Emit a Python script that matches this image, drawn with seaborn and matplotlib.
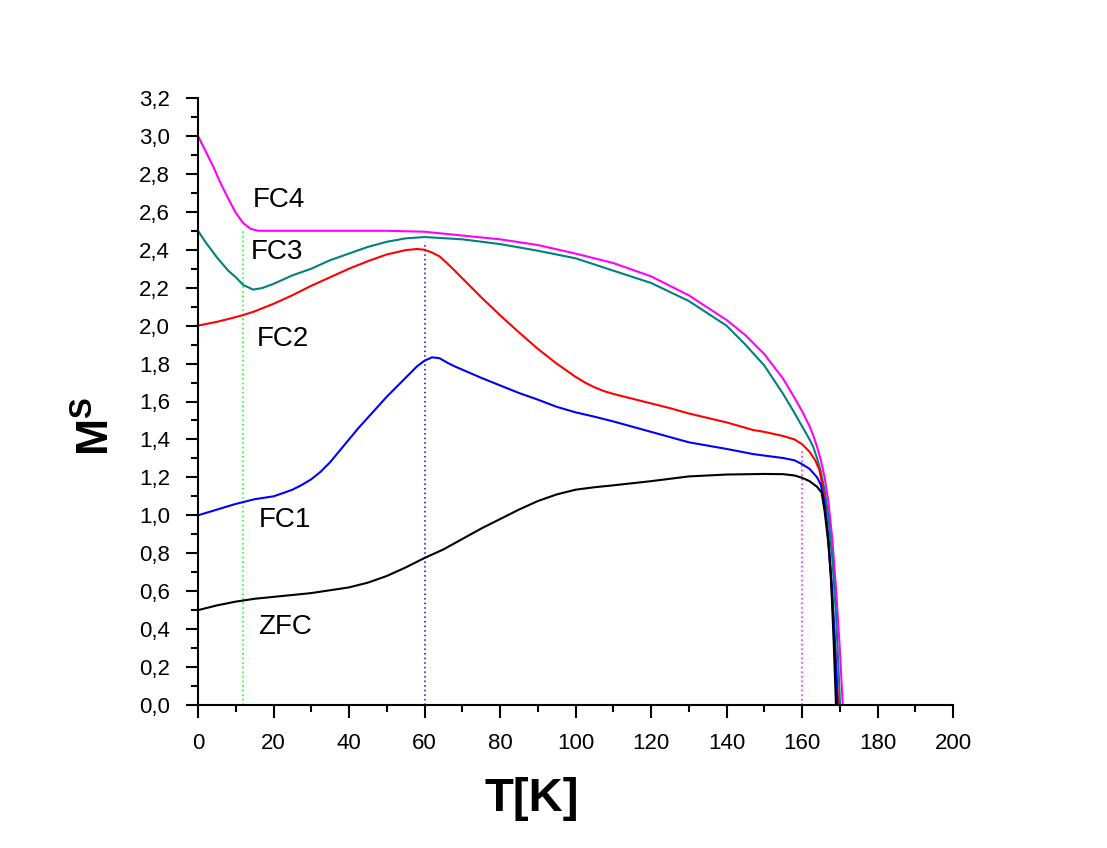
import matplotlib
matplotlib.use("Agg")
import matplotlib.pyplot as plt
import seaborn as sns
import numpy as np
from matplotlib.ticker import FuncFormatter, MultipleLocator

# Data
zfc_t = [0, 5, 10, 15, 20, 25, 30, 35, 40, 45, 50, 55, 60, 65, 70, 75, 80, 85, 90, 95,
         100, 105, 110, 120, 130, 140, 150, 155, 158, 160, 162, 164, 165.2, 166, 167, 167.7, 168.4, 169]
zfc_m = [0.50, 0.525, 0.545, 0.56, 0.57, 0.58, 0.59, 0.605, 0.62, 0.645, 0.68, 0.725, 0.775, 0.82,
         0.875, 0.93, 0.98, 1.03, 1.075, 1.11, 1.135, 1.148, 1.158, 1.18, 1.205, 1.215, 1.218, 1.217,
         1.21, 1.198, 1.18, 1.15, 1.12, 1.02, 0.85, 0.66, 0.33, 0.0]

fc1_t = [0, 5, 10, 15, 20, 22.5, 25, 27.5, 30, 32.5, 35, 37.5, 40, 42.5, 45, 50, 55, 58, 60, 62,
         64, 66, 68, 70, 75, 80, 85, 90, 95, 100, 105, 110, 120, 130, 140, 147, 150, 155, 158, 160,
         162, 164, 165, 166, 167, 168, 168.8, 169.4]
fc1_m = [1.00, 1.03, 1.06, 1.085, 1.10, 1.117, 1.135, 1.16, 1.19, 1.23, 1.28, 1.34, 1.40, 1.46,
         1.515, 1.625, 1.725, 1.785, 1.815, 1.833, 1.828, 1.805, 1.785, 1.768, 1.725, 1.685, 1.645,
         1.61, 1.572, 1.543, 1.52, 1.495, 1.44, 1.385, 1.35, 1.323, 1.315, 1.302, 1.29, 1.27, 1.245,
         1.20, 1.16, 1.06, 0.88, 0.6, 0.3, 0.0]

fc2_t = [0, 5, 10, 12, 15, 20, 25, 30, 35, 40, 45, 50, 55, 58, 60, 62, 64, 67, 70, 75, 80, 85, 90,
         95, 100, 102.5, 105, 107.5, 110, 115, 120, 125, 130, 140, 147, 150, 155, 158, 160, 162,
         163.5, 164.6, 165.5, 166.5, 167.5, 168.5, 169.6]
fc2_m = [2.00, 2.02, 2.045, 2.056, 2.075, 2.115, 2.16, 2.21, 2.255, 2.30, 2.34, 2.375, 2.398, 2.404,
         2.40, 2.385, 2.365, 2.31, 2.25, 2.15, 2.055, 1.965, 1.878, 1.80, 1.73, 1.70, 1.675, 1.655,
         1.64, 1.615, 1.59, 1.565, 1.537, 1.49, 1.45, 1.44, 1.418, 1.40, 1.375, 1.335, 1.29, 1.24,
         1.15, 0.98, 0.72, 0.4, 0.0]

fc3_t = [0, 2, 5, 8, 10, 12, 14.6, 17, 20, 25, 30, 35, 40, 45, 50, 55, 60, 70, 80, 90, 100, 110,
         120, 130, 140, 145, 150, 153, 155, 158, 160, 162, 163, 164, 165, 166, 167, 168, 169, 170.1]
fc3_m = [2.50, 2.44, 2.36, 2.29, 2.255, 2.214, 2.19, 2.198, 2.22, 2.265, 2.30, 2.345, 2.38, 2.415,
         2.442, 2.46, 2.467, 2.455, 2.43, 2.395, 2.355, 2.29, 2.225, 2.13, 2.0, 1.90, 1.79, 1.70,
         1.64, 1.54, 1.47, 1.40, 1.36, 1.30, 1.23, 1.13, 0.99, 0.78, 0.48, 0.0]

fc4_t = [0, 2, 4, 6, 8, 10, 12, 14, 16, 20, 30, 40, 50, 60, 70, 80, 90, 100, 110, 120, 130, 140,
         145, 150, 155, 158, 160, 162, 163, 164, 165, 166, 167, 168, 169, 170, 170.8]
fc4_m = [3.00, 2.92, 2.84, 2.75, 2.67, 2.595, 2.54, 2.51, 2.50, 2.50, 2.50, 2.50, 2.50, 2.495,
         2.475, 2.455, 2.425, 2.38, 2.33, 2.26, 2.16, 2.03, 1.95, 1.85, 1.72, 1.62, 1.55, 1.47,
         1.42, 1.36, 1.29, 1.20, 1.07, 0.88, 0.62, 0.3, 0.0]

curves = [
    ("FC4", fc4_t, fc4_m, "#ff00ff", 14.6, 2.66),
    ("FC3", fc3_t, fc3_m, "#008080", 14.0, 2.39),
    ("FC2", fc2_t, fc2_m, "#ff0000", 15.6, 1.93),
    ("FC1", fc1_t, fc1_m, "#0000ff", 16.2, 0.975),
    ("ZFC", zfc_t, zfc_m, "#000000", 15.9, 0.41),
]

# dotted reference lines: temperature, top value, colour
mark_t = [12, 60, 160]
mark_top = [2.51, 2.44, 1.34]
mark_col = ["#00ff00", "#0000ff", "#ff00ff"]

x_ticks = np.arange(0, 201, 20)
y_ticks = np.arange(0, 3.21, 0.2)

sns.set_style("ticks")
plt.rcParams['font.family'] = ['Liberation Sans', 'DejaVu Sans']
plt.rcParams['mathtext.fontset'] = 'custom'
plt.rcParams['mathtext.rm'] = 'Liberation Sans'
plt.rcParams['mathtext.bf'] = 'Liberation Sans:bold'
plt.rcParams['text.color'] = 'black'
plt.rcParams['axes.labelcolor'] = 'black'
plt.rcParams['xtick.color'] = 'black'
plt.rcParams['ytick.color'] = 'black'

fig = plt.figure(figsize=(11.07, 8.48), dpi=100)
ax = fig.add_axes([198 / 1107, 1 - 705 / 848, 755 / 1107, 607 / 848])

for t, top, c in zip(mark_t, mark_top, mark_col):
    ax.vlines(t, 0, top, colors=c, linestyles=(0, (1, 2)), linewidth=1.1)

for name, t, m, c, lx, ly in curves:
    sns.lineplot(x=t, y=m, color=c, linewidth=1.5, ax=ax, estimator=None, sort=False)
    ax.text(lx, ly, name, fontsize=20, ha='left', va='center', color='black')

ax.set_xlim(0, 200)
ax.set_ylim(0, 3.2)
ax.set_xticks(x_ticks)
ax.set_yticks(y_ticks)
ax.xaxis.set_minor_locator(MultipleLocator(10))
ax.yaxis.set_minor_locator(MultipleLocator(0.1))
ax.xaxis.set_major_formatter(FuncFormatter(lambda v, p: f"{v:.0f}"))
ax.yaxis.set_major_formatter(FuncFormatter(lambda v, p: f"{v:.1f}".replace(".", ",")))

ax.tick_params(which='major', direction='out', length=9, width=1.5, labelsize=16, pad=11, color='black')
ax.tick_params(which='minor', direction='out', length=5, width=1.5, color='black')
for side in ['top', 'right']:
    ax.spines[side].set_visible(False)
for side in ['left', 'bottom']:
    ax.spines[side].set_linewidth(1.5)
    ax.spines[side].set_color('black')

ax.set_xlabel("T[K]", fontsize=34, fontweight='bold')
ax.xaxis.label.set_va('center')
ax.xaxis.set_label_coords(0.442, -0.155)
ax.set_ylabel(r"$\mathbf{M^{S}}$", fontsize=32)
ax.yaxis.label.set_va('center')
ax.yaxis.set_label_coords(-0.133, 0.458)

fig.savefig("out.png", dpi=100)
